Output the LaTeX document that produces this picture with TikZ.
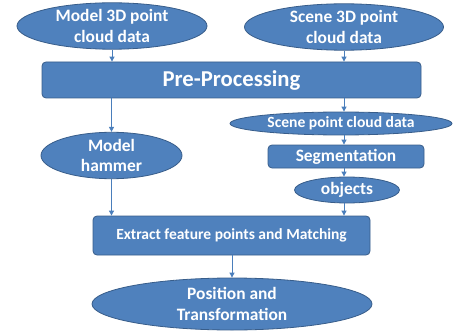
\documentclass[tikz,border=0pt]{standalone}
\usepackage{fontspec}
\setmainfont{Carlito}
\usetikzlibrary{shapes.geometric,arrows.meta}
\definecolor{boxfill}{HTML}{4F81BD}
\definecolor{boxline}{HTML}{385D8A}
\definecolor{arrowcol}{HTML}{4A7EBB}
\tikzset{
  base/.style={fill=boxfill, draw=boxline, line width=0.8pt, text=white,
    font=\bfseries\fontsize{17.4}{20.5}\selectfont, align=center, inner sep=0pt},
  oval/.style={base, ellipse},
  stepbox/.style={base, rectangle, rounded corners=4pt},
  arr/.style={draw=arrowcol, line width=0.9pt, -{Triangle[length=5pt,width=5pt]}}
}
\begin{document}
\begin{tikzpicture}[x=1pt, y=-1pt]
\useasboundingbox (0,0) rectangle (454,331);
\node[oval, minimum width=190pt, minimum height=42pt] (m3d) at (112,26) {Model 3D point\\cloud data};
\node[oval, minimum width=199pt, minimum height=42pt] (s3d) at (344,27) {Scene 3D point\\cloud data};
\node[stepbox, minimum width=379pt, minimum height=36pt, font=\bfseries\fontsize{22.7}{26}\selectfont] (pre) at (231.5,80) {Pre-Processing};
\node[oval, minimum width=141pt, minimum height=45pt] (ham) at (111.5,155.5) {Model\\hammer};
\node[oval, minimum width=222pt, minimum height=23pt, font=\bfseries\fontsize{15.6}{18}\selectfont] (spc) at (341,123.5) {Scene point cloud data};
\node[stepbox, minimum width=156pt, minimum height=23pt] (seg) at (346,156.5) {Segmentation};
\node[oval, minimum width=105pt, minimum height=26pt] (obj) at (347,190) {objects};
\node[stepbox, minimum width=277pt, minimum height=39pt, font=\bfseries\fontsize{15.5}{18}\selectfont] (ext) at (231.5,235.5) {Extract feature points and Matching};
\node[oval, minimum width=280pt, minimum height=52pt] (pos) at (232,304) {Position and\\Transformation};
\draw[arr] (m3d) -- (m3d |- pre.north);
\draw[arr] (s3d) -- (s3d |- pre.north);
\draw[arr] (pre.south -| ham) -- (ham.north);
\draw[arr] (pre.south -| s3d) -- (s3d |- spc.north);
\draw[arr] (spc.south -| s3d) -- (s3d |- seg.north);
\draw[arr] (seg.south -| s3d) -- (s3d |- obj.north);
\draw[arr] (ham) -- (ham |- ext.north);
\draw[arr] (obj.south -| s3d) -- (s3d |- ext.north);
\draw[arr] (ext.south -| pos) -- (pos.north);
\end{tikzpicture}
\end{document}
